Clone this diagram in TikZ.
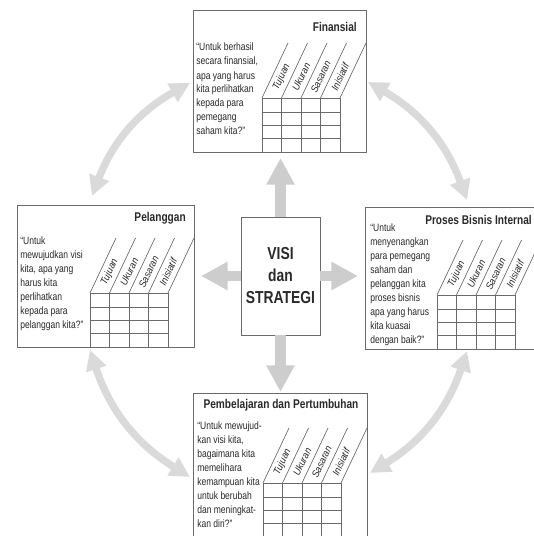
\documentclass[tikz,border=0pt]{standalone}
\usepackage{fontspec}
\setmainfont{Liberation Sans}
\newfontfamily\condfont{Liberation Sans}[FakeStretch=0.8]
\newfontfamily\hdrfont{Liberation Sans}[FakeStretch=0.92]
\usetikzlibrary{arrows.meta}
\definecolor{boxgray}{HTML}{6A6A6A}
\definecolor{txt}{HTML}{2A2A2A}
\definecolor{arrowgray}{HTML}{CDCDCD}
\definecolor{cycgray}{HTML}{DADADA}
\tikzset{
  box/.style={draw=boxgray, line width=0.6pt, fill=white, inner sep=0pt, anchor=north west},
  bodytext/.style={anchor=north west, inner sep=0pt, align=left, text=txt,
    font=\condfont\fontsize{8}{10.5}\selectfont},
  ttl/.style={inner sep=0pt, text=txt, font=\condfont\bfseries\fontsize{9.5}{11}\selectfont},
  hdr/.style={inner sep=0pt, rotate=65, text=txt, font=\hdrfont\itshape\fontsize{7.5}{9}\selectfont},
  tabline/.style={draw=boxgray, line width=0.5pt},
  bigarrow/.style={draw=arrowgray, line width=8pt, -{Triangle[width=20pt,length=20pt]}},
  cyc/.style={draw=cycgray, line width=5.5pt,
    {Triangle[width=15pt,length=15pt]}-{Triangle[width=15pt,length=15pt]}},
  ktab/.pic={
    \draw[tabline] (0,0) rectangle (78,54);
    \foreach \i in {1,2,3} \draw[tabline] (\i*19.5,0) -- (\i*19.5,54);
    \foreach \yy in {14,27,40} \draw[tabline] (0,\yy) -- (78,\yy);
    \foreach \i in {0,...,4} \draw[tabline] (\i*19.5,0) -- ++(26,-55);
    \foreach \t [count=\i from 0] in {Tujuan,Ukuran,Sasaran,Inisiatif}
      \node[hdr] (-h\i) at (\i*19.5+19.7,-21) {\t};
  }
}
\begin{document}
\begin{tikzpicture}[x=0.75pt,y=-0.75pt]
\clip (0,0) rectangle (534,536);
\useasboundingbox (0,0) rectangle (534,536);
\fill[white] (0,0) rectangle (534,536);

% cycle arcs
\coordinate (c1a) at (92,196);
\coordinate (c1b) at (190,83);
\coordinate (c2a) at (368,82);
\coordinate (c2b) at (467,200);
\coordinate (c3a) at (467,351);
\coordinate (c3b) at (370,473);
\coordinate (c4a) at (190,477);
\coordinate (c4b) at (90,350);
\draw[cyc] (c1a) to[bend left=20] (c1b);
\draw[cyc] (c2a) to[bend left=20] (c2b);
\draw[cyc] (c3a) to[bend left=20] (c3b);
\draw[cyc] (c4a) to[bend left=20] (c4b);

% boxes
\node[box, minimum width={173*0.75pt}, minimum height={142*0.75pt}] (fin) at (193,10) {};
\node[box, minimum width={177*0.75pt}, minimum height={142*0.75pt}] (pel) at (17,205) {};
\node[box, minimum width={175*0.75pt}, minimum height={142*0.75pt}] (pro) at (365,207) {};
\node[box, minimum width={174*0.75pt}, minimum height={150*0.75pt}] (pem) at (193,393) {};
\node[draw=boxgray, line width=0.6pt, fill=white, inner sep=0pt,
  minimum width={79*0.75pt}, minimum height={118*0.75pt}, align=center, text=txt,
  font=\condfont\bfseries\fontsize{13}{16.5}\selectfont] (visi) at (280.5,276) {VISI\\dan\\STRATEGI};

% central arrows
\coordinate (tU) at (280.5,158);
\coordinate (tL) at (201,276);
\coordinate (tR) at (358,276);
\coordinate (tD) at (280.5,392);
\draw[bigarrow] (visi.north) -- (tU);
\draw[bigarrow] (visi.west) -- (tL);
\draw[bigarrow] (visi.east) -- (tR);
\draw[bigarrow] (visi.south) -- (tD);

% titles
\node[ttl, anchor=east] (fint) at (357,27) {Finansial};
\node[ttl, anchor=east] (pelt) at (186,218) {Pelanggan};
\node[ttl, anchor=east] (prot) at (532,220) {Proses Bisnis Internal};
\node[ttl] (pemt) at (281,405) {Pembelajaran dan Pertumbuhan};

% questions
\node[bodytext] (finq) at (196,43) {“Untuk berhasil\\secara finansial,\\apa yang harus\\kita perlihatkan\\kepada para\\pemegang\\saham kita?”};
\node[bodytext] (pelq) at (20,236) {“Untuk\\mewujudkan visi\\kita, apa yang\\harus kita\\perlihatkan\\kepada para\\pelanggan kita?”};
\node[bodytext] (proq) at (370,223) {“Untuk\\menyenangkan\\para pemegang\\saham dan\\pelanggan kita\\proses bisnis\\apa yang harus\\kita kuasai\\dengan baik?”};
\node[bodytext] (pemq) at (197,421) {“Untuk mewujud-\\kan visi kita,\\bagaimana kita\\memelihara\\kemampuan kita\\untuk berubah\\dan meningkat-\\kan diri?”};

% tables
\pic (fintab) at (262,98) {ktab};
\pic (peltab) at (90,293) {ktab};
\pic (protab) at (437,295) {ktab};
\pic (pemtab) at (263,483) {ktab};
\end{tikzpicture}
\end{document}
